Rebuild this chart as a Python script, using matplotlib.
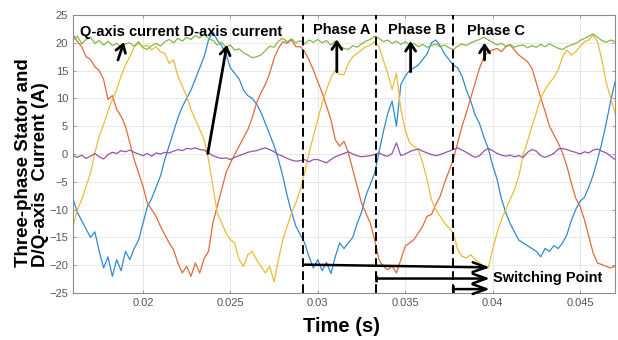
import numpy as np
import matplotlib
matplotlib.use("Agg")
import matplotlib.pyplot as plt

plt.rcParams["font.family"] = ["Liberation Sans", "DejaVu Sans"]

# sample grid (s)
t_start = 0.016
t_step = 0.00025
n_samples = 125
time_s = t_start + t_step * np.arange(n_samples)

# stator phase currents (A)
phase_a = [
    -8.0, -10.5, -12.0, -13.5, -15.0, -14.0, -17.5, -20.5, -18.5, -22.0,
    -19.0, -21.0, -17.5, -19.0, -17.0, -15.5, -12.5, -9.5, -8.0, -6.0,
    -4.0, -1.0, 1.5, 4.0, 6.5, 8.5, 10.0, 11.5, 13.5, 15.5,
    17.5, 20.5, 22.0, 20.5, 19.5, 18.0, 15.5, 14.5, 13.5, 11.5,
    10.5, 10.0, 9.0, 7.5, 5.5, 3.5, 1.5, -1.0, -4.0, -7.5,
    -10.5, -13.0, -14.5, -16.0, -18.5, -20.5, -19.0, -21.0, -19.5, -21.5,
    -18.5, -16.0, -17.0, -16.0, -15.0, -12.5, -10.5, -7.5, -5.5, -3.5,
    0.3, 4.0, 7.3, 9.5, 5.0, 12.5, 14.0, 15.0, 15.5, 16.0,
    17.0, 18.0, 20.0, 20.5, 19.5, 18.0, 17.0, 16.0, 15.5, 14.0,
    11.5, 9.5, 7.0, 5.5, 3.0, 1.0, -2.0, -4.5, -8.0, -10.5,
    -12.5, -14.0, -15.5, -16.0, -16.5, -17.0, -17.5, -18.5, -17.0, -17.5,
    -16.5, -17.0, -16.0, -14.5, -12.0, -10.0, -8.5, -7.8, -6.0, -3.8,
    -1.0, 2.0, 5.6, 9.5, 13.0,
]
phase_b = [
    21.5, 20.2, 19.3, 17.5, 17.0, 15.7, 15.0, 13.4, 9.8, 10.5,
    8.0, 6.8, 5.0, 2.0, -1.0, -3.4, -5.8, -8.8, -10.0, -11.2,
    -13.0, -14.5, -16.0, -17.2, -19.6, -21.4, -20.2, -22.0, -19.6, -21.4,
    -18.8, -17.5, -12.4, -9.4, -6.4, -3.4, -1.6, -0.1, 1.4, 2.9,
    4.4, 6.5, 9.2, 11.0, 12.5, 14.5, 17.2, 19.0, 20.2, 19.9,
    20.5, 19.3, 19.3, 18.4, 16.9, 15.1, 13.0, 11.0, 8.6, 6.2,
    2.6, 1.4, 2.3, 0.2, -2.8, -5.8, -8.8, -10.6, -12.4, -15.4,
    -19.0, -20.2, -20.8, -20.2, -21.4, -19.0, -16.6, -16.0, -15.4, -14.2,
    -13.0, -11.2, -10.9, -9.1, -7.6, -5.2, -3.1, -1.0, 2.0, 5.0,
    7.4, 10.1, 12.8, 15.4, 17.5, 18.4, 18.7, 19.0, 18.4, 19.3,
    19.6, 18.7, 17.8, 17.2, 16.6, 15.4, 12.8, 10.1, 7.7, 5.0,
    3.5, 2.0, 0.2, -2.2, -5.2, -7.9, -9.4, -11.8, -14.8, -17.8,
    -19.6, -19.9, -20.2, -20.5, -20.2,
]
phase_c = [
    -13.0, -10.0, -8.2, -5.8, -3.4, 0.2, 3.2, 5.3, 7.7, 9.8,
    11.6, 14.0, 16.0, 17.5, 19.3, 19.9, 19.3, 19.6, 18.7, 19.3,
    18.4, 18.1, 16.3, 16.9, 14.0, 12.2, 10.4, 8.0, 6.2, 4.4,
    2.6, -1.0, -5.8, -10.6, -12.4, -14.2, -15.4, -16.0, -19.0, -20.2,
    -18.1, -17.5, -19.0, -20.2, -21.4, -20.2, -23.0, -19.0, -15.4, -13.0,
    -10.6, -8.8, -6.4, -3.4, 0.2, 3.2, 6.2, 9.2, 11.6, 13.7,
    15.1, 14.3, 14.3, 16.3, 17.5, 18.1, 18.7, 19.3, 19.6, 20.2,
    19.3, 16.9, 14.5, 11.6, 14.5, 8.0, 4.4, 2.0, 1.4, 0.8,
    -1.6, -4.6, -8.2, -10.0, -11.2, -12.4, -13.3, -14.2, -17.2, -18.4,
    -18.7, -18.1, -19.0, -19.6, -20.2, -20.5, -17.2, -14.2, -11.8, -10.0,
    -8.2, -6.4, -4.0, -0.1, 2.3, 5.0, 7.4, 10.1, 11.6, 12.8,
    13.7, 15.1, 17.5, 18.7, 17.8, 18.4, 19.3, 20.2, 20.5, 21.4,
    20.2, 16.9, 12.8, 10.1, 7.4,
]
# rotor-frame currents (A)
d_axis = [
    -0.3, -0.6, -0.2, -0.8, -0.4, 0.1, -0.5, -0.9, -0.1, 0.3,
    0.1, 0.6, 0.4, 0.7, 0.3, 0.0, -0.3, 0.1, -0.4, 0.2,
    0.0, 0.3, 0.2, 0.5, 0.8, 0.6, 1.0, 0.9, 1.1, 0.8,
    0.7, 0.2, -0.3, -0.6, -0.8, -0.7, -1.0, -0.6, -0.3, 0.0,
    0.3, 0.5, 0.6, 0.9, 1.1, 0.8, 0.4, -0.1, -0.4, -0.8,
    -1.1, -1.3, -1.2, -1.0, -1.4, -1.0, -1.0, -1.3, -1.6, -1.0,
    -0.5, -0.2, 0.1, 0.4, 0.0, -0.3, -0.5, -0.4, -0.3, -0.1,
    0.2, -0.2, -0.4, 0.1, 2.0, -0.3, 0.0, 0.4, 0.7, 0.9,
    0.5, 0.2, -0.1, -0.3, -0.1, 0.2, 0.5, 0.8, 1.1, 0.7,
    0.3, -0.2, -0.6, -0.3, 0.5, 1.0, 0.6, 0.1, -0.2, -0.4,
    -0.2, -0.5, -0.3, -0.6, 0.3, 0.8, 0.5, -0.3, -0.6, -0.3,
    0.1, 0.9, 1.0, 0.8, 0.5, 0.3, 0.0, 0.4, 0.2, 0.7,
    0.9, 0.5, 0.2, -0.4, -1.0,
]
q_axis = [
    20.5, 21.2, 19.8, 20.6, 21.0, 19.9, 20.4, 19.6, 20.3, 19.5,
    19.9, 19.2, 19.8, 20.0, 19.4, 20.2, 19.1, 18.8, 19.5, 19.9,
    19.4, 20.2, 20.6, 20.0, 20.8, 20.3, 21.0, 20.6, 21.3, 20.9,
    21.5, 20.8, 20.4, 19.6, 20.1, 19.2, 19.6, 18.7, 18.9, 18.2,
    17.8, 17.3, 17.5, 17.8, 18.6, 19.4, 19.2, 20.3, 20.8, 20.2,
    20.7, 20.0, 20.4, 19.8, 20.5, 20.1, 20.6, 20.0, 20.4, 19.6,
    20.3, 19.4, 19.0, 18.8, 19.5, 19.2, 19.8, 20.3, 20.6, 21.2,
    20.8, 20.2, 20.5, 19.9, 20.3, 19.7, 20.2, 19.6, 19.9, 19.3,
    19.7, 19.2, 19.5, 19.8, 19.3, 19.6, 19.1, 18.8, 19.4, 19.8,
    19.5, 20.0, 20.3, 20.6, 21.0, 20.5, 20.1, 19.6, 19.9, 19.4,
    19.7, 19.2, 19.5, 19.6, 19.1, 19.5, 19.2, 19.7, 19.3, 19.8,
    19.4, 19.0, 18.8, 19.3, 19.6, 19.9, 20.4, 20.8, 21.2, 21.6,
    21.0, 20.4, 20.1, 20.5, 20.2,
]

switch_times = [0.02917, 0.03335, 0.03773]
x_ticks = [0.02, 0.025, 0.03, 0.035, 0.04, 0.045]
x_tick_labels = ["0.02", "0.025", "0.03", "0.035", "0.04", "0.045"]
y_ticks = list(range(-25, 26, 5))

colors = {
    "a": "#2f8ad2",
    "b": "#e06a3c",
    "c": "#efbb36",
    "d": "#9455a6",
    "q": "#84b84c",
}

fig = plt.figure(figsize=(6.18, 3.40), dpi=100)
ax = fig.add_axes([73 / 618, 1 - 293 / 340, (615 - 73) / 618, (293 - 15) / 340])

lw = 0.9
ax.plot(time_s, phase_a, color=colors["a"], lw=lw)
ax.plot(time_s, phase_b, color=colors["b"], lw=lw)
ax.plot(time_s, phase_c, color=colors["c"], lw=lw)
ax.plot(time_s, d_axis, color=colors["d"], lw=lw)
ax.plot(time_s, q_axis, color=colors["q"], lw=lw)

for ts in switch_times:
    ax.axvline(ts, color="black", lw=1.4, ls=(0, (4.5, 2.2)), zorder=5)

ax.set_xlim(0.016, 0.047)
ax.set_ylim(-25, 25)
ax.set_xticks(x_ticks)
ax.set_xticklabels(x_tick_labels)
ax.set_yticks(y_ticks)
ax.grid(True, color="#e4e4e4", lw=0.6)
ax.set_axisbelow(True)
for sp in ax.spines.values():
    sp.set_color("#8c8c8c")
    sp.set_linewidth(0.8)
ax.tick_params(direction="in", length=2.5, width=0.6, colors="#8c8c8c",
               labelcolor="#555555", labelsize=8)
ax.tick_params(axis="both", which="both", top=True, right=True,
               labeltop=False, labelright=False)

fig.text(341 / 618, 1 - 327 / 340, "Time (s)", fontsize=14.5,
         fontweight="bold", ha="center", va="center")
fig.text(32 / 618, 1 - 162.5 / 340,
         "Three-phase Stator and\nD/Q-axis  Current (A)",
         fontsize=13.5, fontweight="bold", rotation=90,
         ha="center", va="center", multialignment="left", linespacing=0.95)

txt_kw = dict(fontsize=10.5, fontweight="bold", color="black", va="center",
              ha="left", zorder=7)
ax.text(0.0164, 21.9, "Q-axis current D-axis current", **txt_kw)
ax.text(0.02971, 22.3, "Phase A", **txt_kw)
ax.text(0.03400, 22.3, "Phase B", **txt_kw)
ax.text(0.03851, 22.1, "Phase C", **txt_kw)
ax.text(0.04005, -22.3, "Switching Point", **txt_kw)

up_arrow = dict(arrowstyle="->,head_length=0.45,head_width=0.3", lw=2.0,
                color="black", shrinkA=0, shrinkB=0, mutation_scale=12)
pointers = [
    ((0.01857, 16.9), (0.01891, 20.1)),
    ((0.02371, 0.1), (0.02480, 19.6)),
    ((0.03109, 14.8), (0.03109, 20.6)),
    ((0.03531, 14.8), (0.03531, 20.3)),
    ((0.03954, 16.9), (0.03954, 20.0)),
]
for tail, head in pointers:
    ax.annotate("", xy=head, xytext=tail, arrowprops=up_arrow, zorder=7)

# switching-point arrows: (start time, start level, end level, has start bar)
switch_arrows = [
    (0.02925, -19.9, -20.4, False),
    (0.03335, -22.4, -22.4, True),
    (0.03773, -24.3, -24.3, True),
]
arrow_end = 0.03985
side_arrow = dict(arrowstyle="->,head_length=0.7,head_width=0.25", lw=1.8,
                  color="black", shrinkA=0, shrinkB=0, mutation_scale=14)
for t0, y0, y1, bar in switch_arrows:
    ax.annotate("", xy=(arrow_end, y1), xytext=(t0, y0),
                arrowprops=side_arrow, zorder=7)
    if bar:
        ax.vlines(t0, y0 - 0.7, y0 + 0.7, color="black", lw=1.8, zorder=7)

fig.savefig("out.png", dpi=100)
